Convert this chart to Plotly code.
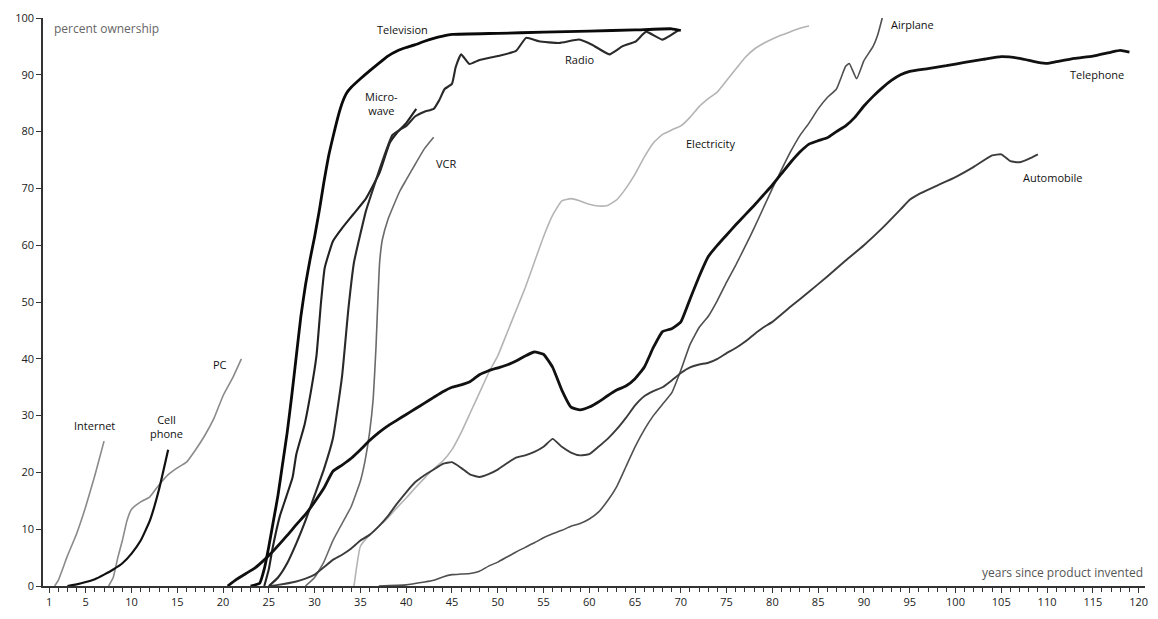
import plotly.graph_objects as go

# ---------------- data (years since invention, percent ownership) ----------------
internet_years = [1.6, 2, 2.7, 3, 4, 5, 6, 7]
internet_pct = [0, 1, 4, 5.3, 9.2, 14, 19.5, 25.5]

cell_years = [3, 4, 5, 6, 7, 8, 9, 10, 11, 12, 13, 14]
cell_pct = [0, 0.3, 0.7, 1.2, 2, 2.9, 4, 5.7, 8, 11.5, 17, 24]

pc_years = [7.5, 8, 8.5, 9, 9.5, 10, 11, 12, 13, 14, 15, 16, 17, 18, 19, 20, 21, 22]
pc_pct = [0, 1.5, 5, 8, 11.5, 13.5, 14.8, 15.7, 17.8, 19.6, 20.8, 21.8, 24, 26.5, 29.5, 33.5, 36.5, 40]

tv_years = [23, 24, 24.5, 25, 25.5, 26, 26.5, 27, 27.5, 28, 28.5, 29, 29.5, 30, 30.5, 31, 31.5,
            32, 32.5, 33, 33.5, 34, 35, 36, 37, 38, 39, 40, 41, 42, 43, 44, 45, 50, 55, 60, 65, 69, 70]
tv_pct = [0, 0.5, 3, 7, 11.5, 16, 21.5, 27, 33.5, 40.5, 47.5, 53, 57.5, 61.5, 66, 71, 75.5,
          79, 82.3, 85, 86.8, 87.8, 89.3, 90.7, 92, 93.3, 94.2, 94.8, 95.3, 95.9, 96.4, 96.8, 97.1,
          97.3, 97.5, 97.7, 97.9, 98.1, 97.8]

microwave_years = [24.5, 25, 25.4, 26.2, 26.9, 27.6, 28, 28.9, 29.6, 30.2, 30.7, 31.1, 32, 33,
                   34.2, 35.6, 37.1, 38.2, 39, 40, 41.1]
microwave_pct = [0, 3, 6.6, 12.3, 15.7, 19.2, 23.2, 28.4, 34.3, 40.5, 50, 56, 60.7, 63,
                 65.4, 68.2, 72.8, 78, 79.8, 81.5, 84]

radio_years = [25, 26, 27, 28, 29, 30, 31, 32, 33, 33.7, 34.3, 35, 35.6, 36.3, 37.1, 38, 38.5,
               39.3, 40, 41, 42, 43, 43.6, 44.2, 45, 45.4, 46, 46.9, 48, 50, 52, 53.1, 54.5,
               56.7, 58.9, 60.3, 62.2, 63.6, 65.1, 66.2, 68, 69.8]
radio_pct = [0, 1.5, 4, 7.5, 11.5, 16, 20.5, 26, 37, 49, 57, 62, 66, 69.5, 73.4, 77.5, 79.4,
             80.3, 81, 82.7, 83.5, 84, 85.5, 87.5, 88.4, 91.3, 93.6, 91.9, 92.6, 93.3, 94.2, 96.5, 95.9,
             95.6, 96.2, 95.3, 93.6, 95, 95.9, 97.6, 96.2, 97.9]

vcr_years = [29, 30, 31, 32, 33, 34, 35, 35.5, 36, 36.4, 36.7, 36.9, 37.1, 37.4, 38, 38.5,
             39.3, 40, 41, 42, 43]
vcr_pct = [0, 1.5, 4.2, 8, 11, 14, 18.5, 22, 27, 33, 42, 50, 57, 61, 64.5, 66.5,
           69.5, 71.5, 74.3, 77, 79]

telephone_years = [20.5, 21.5, 22.5, 23.5, 24.5, 25.5, 27, 28, 29, 30, 31, 32, 33, 34, 35, 36, 37,
                   38, 39, 40, 41, 42, 43, 44, 45, 46, 47, 48, 49, 50, 51, 52, 53, 54, 55, 56,
                   57, 58, 59, 60, 61, 62, 63, 64, 65, 66, 67, 68, 69, 70, 71, 72, 73, 74, 75,
                   76, 77, 78, 79, 80, 81, 82, 83, 84, 85, 86, 87, 88, 89, 90, 91, 92, 93, 94,
                   95, 97, 99, 101, 103, 105, 107, 109, 110, 111, 113, 115, 117, 118, 119]
telephone_pct = [0, 1.2, 2.2, 3.2, 4.6, 6.2, 8.9, 10.8, 12.6, 14.8, 17.2, 20.2, 21.3, 22.5, 24,
                 25.6, 27, 28.2, 29.2, 30.2, 31.2, 32.2, 33.2, 34.2, 35, 35.4, 36, 37.2, 37.9,
                 38.4, 38.9, 39.6, 40.5, 41.2, 40.8, 38.5, 34.5, 31.5, 31, 31.5, 32.4, 33.5, 34.5,
                 35.2, 36.5, 38.5, 42, 44.8, 45.3, 46.5, 50.5, 54.5, 58, 60, 61.8, 63.6, 65.3, 67,
                 68.8, 70.6, 72.6, 74.6, 76.4, 77.8, 78.4, 78.9, 80, 81, 82.5, 84.5, 86.2, 87.7,
                 89, 90, 90.6, 91.1, 91.6, 92.2, 92.7, 93.2, 92.9, 92.2, 92, 92.3, 92.9, 93.3,
                 94, 94.3, 94]

electricity_years = [34.3, 35, 36, 37, 38, 39, 40, 41, 42, 43, 44, 45, 46, 47, 48, 49, 50, 51, 52,
                     53, 54, 55, 56, 57, 58, 59, 60, 61, 62, 63, 64, 65, 66, 67, 68, 69, 70, 71,
                     72, 73, 74, 75, 76, 77, 78, 79, 80, 81, 82, 83, 84]
electricity_pct = [0, 7, 9, 10.5, 12, 13.8, 15.5, 17.3, 19, 20.6, 22, 24, 27, 30.5, 34, 37.5, 40.5,
                   44.5, 48.5, 52.5, 57, 61.5, 65.3, 67.8, 68.2, 67.8, 67.2, 66.9, 67, 68, 70, 72.5,
                   75.5, 78, 79.5, 80.3, 81, 82.5, 84.4, 85.8, 87, 89, 91, 93, 94.5, 95.5, 96.3,
                   97, 97.6, 98.2, 98.6]

airplane_years = [37, 40, 42, 43, 44, 45, 46, 47, 48, 49, 50, 51, 52, 53, 54, 55, 56, 57, 58, 59,
                  60, 61, 62, 63, 64, 65, 66, 67, 68, 69, 70, 71, 72, 73, 74, 75, 76, 77, 78, 79,
                  80, 81, 82, 83, 84, 85, 86, 87, 88, 88.4, 89.2, 90, 91, 91.5, 92]
airplane_pct = [0, 0.2, 0.7, 1, 1.6, 2, 2.1, 2.2, 2.6, 3.5, 4.2, 5.1, 6, 6.8, 7.6, 8.5, 9.2, 9.8,
                10.5, 11, 11.8, 13, 15, 17.5, 21, 24.5, 27.5, 30, 32, 34, 38, 42.5, 45.5, 47.5,
                50.3, 53.5, 56.5, 59.7, 63, 66.5, 70, 73.3, 76.5, 79.3, 81.5, 84, 86, 87.5, 91.5,
                92, 89.3, 92.5, 95, 97, 100]

auto_years = [25, 26, 28, 29, 30, 31, 32, 33, 34, 35, 36, 37, 38, 39, 40, 41, 42, 43, 44, 45, 46,
              47, 48, 49, 50, 51, 52, 53, 54, 55, 56, 57, 58, 59, 60, 61, 62, 63, 64, 65, 66, 67,
              68, 69, 70, 71, 72, 73, 74, 75, 76, 77, 78, 79, 80, 82, 84, 86, 88, 90, 92, 94, 95,
              96, 98, 100, 102, 104, 105, 106, 107, 108, 109]
auto_pct = [0, 0.2, 0.8, 1.3, 2, 3.3, 4.6, 5.5, 6.6, 8, 9, 10.5, 12.3, 14.5, 16.5, 18.3, 19.5, 20.5,
            21.5, 21.8, 20.8, 19.6, 19.2, 19.7, 20.5, 21.6, 22.6, 23, 23.6, 24.5, 25.9, 24.5, 23.5,
            23, 23.2, 24.5, 25.9, 27.6, 29.6, 31.8, 33.4, 34.3, 35, 36.2, 37.5, 38.5, 39, 39.3, 40,
            41, 41.9, 43, 44.3, 45.5, 46.5, 49.2, 51.8, 54.5, 57.3, 60, 63, 66.3, 68, 69, 70.5, 72,
            73.8, 75.8, 76, 74.8, 74.6, 75.2, 76]

x_tick_values = [1, 5, 10, 15, 20, 25, 30, 35, 40, 45, 50, 55, 60, 65, 70, 75, 80, 85, 90, 95,
                 100, 105, 110, 115, 120]
x_tick_labels = [str(v) for v in x_tick_values]
y_tick_values = [0, 10, 20, 30, 40, 50, 60, 70, 80, 90, 100]

# label text and anchor points (data coords)
label_texts = ["Internet", "Cell<br>phone", "PC", "Television", "Micro-<br>wave", "VCR", "Radio",
               "Electricity", "Airplane", "Telephone", "Automobile"]
label_x = [6.0, 13.8, 19.7, 39.6, 37.3, 44.3, 58.9, 73.2, 95.3, 115.5, 110.6]
label_y = [28.2, 28.0, 39.0, 97.9, 85.0, 74.4, 92.7, 77.9, 98.8, 90.0, 72.0]

# ---------------- figure ----------------
series = [
    (electricity_years, electricity_pct, "#b4b4b4", 1.6),
    (internet_years, internet_pct, "#8a8a8a", 1.6),
    (pc_years, pc_pct, "#8a8a8a", 1.6),
    (vcr_years, vcr_pct, "#6a6a6a", 1.6),
    (airplane_years, airplane_pct, "#505050", 1.6),
    (auto_years, auto_pct, "#3c3c3c", 1.9),
    (cell_years, cell_pct, "#111111", 2.2),
    (microwave_years, microwave_pct, "#222222", 2.1),
    (radio_years, radio_pct, "#2a2a2a", 2.1),
    (telephone_years, telephone_pct, "#111111", 2.8),
    (tv_years, tv_pct, "#0a0a0a", 2.8),
]

fig = go.Figure()
for xs, ys, col, w in series:
    fig.add_trace(go.Scatter(x=xs, y=ys, mode="lines",
                             line=dict(color=col, width=w, shape="spline", smoothing=0.4),
                             showlegend=False, hoverinfo="skip"))

for t, lx, ly in zip(label_texts, label_x, label_y):
    fig.add_annotation(x=lx, y=ly, text=t, showarrow=False,
                       font=dict(family="Open Sans", size=11, color="#111111"),
                       align="center", xanchor="center", yanchor="middle")

fig.add_annotation(xref="paper", yref="paper", x=0.008, y=1.0, text="percent ownership",
                   showarrow=False, xanchor="left", yanchor="top",
                   font=dict(family="Open Sans", size=12, color="#666666"))
fig.add_annotation(xref="paper", yref="paper", x=1.0, y=0.005, text="years since product invented",
                   showarrow=False, xanchor="right", yanchor="bottom",
                   font=dict(family="Open Sans", size=12, color="#555555"))

fig.update_layout(
    width=1158, height=619,
    margin=dict(l=43, r=10, t=14, b=27),
    paper_bgcolor="white", plot_bgcolor="white",
    xaxis=dict(range=[0.33, 120.7], showgrid=False, zeroline=False,
               showline=True, linecolor="#333333", linewidth=1.5,
               tickmode="array", tickvals=x_tick_values, ticktext=x_tick_labels,
               ticks="outside", ticklen=5, tickcolor="#333333", tickwidth=1.2,
               minor=dict(dtick=1, tick0=0, ticks="outside", ticklen=4,
                          tickcolor="#333333", tickwidth=1),
               tickfont=dict(family="Open Sans", size=11, color="#222222")),
    yaxis=dict(range=[0, 100], showgrid=False, zeroline=False,
               showline=True, linecolor="#333333", linewidth=1.5,
               tickmode="array", tickvals=y_tick_values,
               ticks="outside", ticklen=5, tickcolor="#333333", tickwidth=1.2,
               tickfont=dict(family="Open Sans", size=11, color="#222222")),
)

fig.write_html("out.html", config={"displayModeBar": False},
               post_script="document.body.style.margin='0';document.body.style.overflow='hidden';")
